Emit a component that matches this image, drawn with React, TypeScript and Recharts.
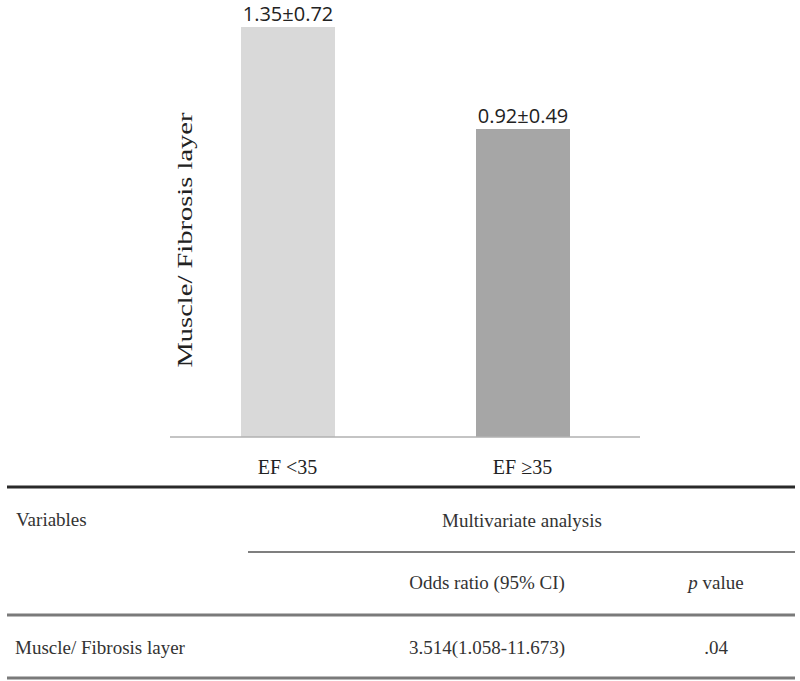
import React from "react";
import { BarChart, Bar, XAxis, YAxis, Cell, LabelList } from "recharts";

const categories = ["EF <35", "EF \u226535"];
const means = [1.35, 0.92];
const sds = [0.72, 0.49];
const axisFloor = -0.38;
const axisCeil = 1.35;
const barColors = ["#d9d9d9", "#a6a6a6"];
const yAxisTitle = "Muscle/ Fibrosis layer";

const tableHeader = { variables: "Variables", group: "Multivariate analysis", col1: "Odds ratio (95% CI)", col2: "value" };
const tableRowLabels = ["Muscle/ Fibrosis layer"];
const tableOdds = ["3.514(1.058-11.673)"];
const tablePValues = [".04"];

const data = categories.map((c, i) => ({ category: c, mean: means[i], sd: sds[i] }));

const serif = "'Liberation Serif', 'Times New Roman', serif";
const sans = "'Open Sans', 'Noto Sans', sans-serif";

const ValueLabel = (props: any) => {
  const { x, y, width, index } = props;
  const d = data[index];
  return (
    <text x={x + width / 2} y={y - 6} textAnchor="middle" fontFamily={sans} fontSize={20} fill="#222">
      {`${d.mean.toFixed(2)}\u00b1${d.sd.toFixed(2)}`}
    </text>
  );
};

const CatTick = (props: any) => {
  const { x, y, payload } = props;
  return (
    <text x={x} y={y} dy={29} textAnchor="middle" fontFamily={serif} fontSize={20} fill="#222">
      {payload.value}
    </text>
  );
};

const YTitle = (props: any) => {
  const vb = props.viewBox || { x: 0, y: 0, width: 0, height: 0 };
  const cx = vb.x + 185;
  const cy = vb.y + 213;
  return (
    <text
      x={cx}
      y={cy}
      transform={`rotate(-90, ${cx}, ${cy})`}
      textAnchor="middle"
      dominantBaseline="central"
      fontFamily={serif}
      fontSize={21}
      fill="#222"
      textLength={255}
      lengthAdjust="spacingAndGlyphs"
    >
      {yAxisTitle}
    </text>
  );
};

export default function App() {
  return (
    <div style={{ position: "absolute", left: 0, top: 0, width: 800, height: 681, background: "#fff" }}>
      <BarChart
        width={800}
        height={490}
        data={data}
        margin={{ top: 27, right: 160, bottom: 13, left: 0 }}
        barCategoryGap="30%"
      >
        <XAxis
          dataKey="category"
          height={40}
          axisLine={{ stroke: "#b0b0b0", strokeWidth: 1.5 }}
          tickLine={false}
          tick={<CatTick />}
          interval={0}
        />
        <YAxis
          type="number"
          width={170}
          domain={[axisFloor, axisCeil]}
          allowDataOverflow
          axisLine={false}
          tickLine={false}
          tick={false}
          label={<YTitle />}
        />
        <Bar dataKey={(d: any) => [axisFloor, d.mean]} barSize={94} isAnimationActive={false}>
          {data.map((d, i) => (
            <Cell key={d.category} fill={barColors[i]} />
          ))}
          <LabelList content={<ValueLabel />} />
        </Bar>
      </BarChart>
      <svg width={800} height={681} style={{ position: "absolute", left: 0, top: 0, pointerEvents: "none" }}>
        <line x1={7} x2={795} y1={487} y2={487} stroke="#2a2a2a" strokeWidth={3} />
        <line x1={248} x2={795} y1={552} y2={552} stroke="#555" strokeWidth={1.5} />
        <line x1={7} x2={795} y1={615} y2={615} stroke="#7a7a7a" strokeWidth={3} />
        <line x1={7} x2={795} y1={678} y2={678} stroke="#7a7a7a" strokeWidth={3} />
        <g fontFamily={serif} fontSize={19} fill="#333" dominantBaseline="central">
          <text x={16} y={519}>{tableHeader.variables}</text>
          <text x={522} y={520} textAnchor="middle">{tableHeader.group}</text>
          <text x={487} y={582} textAnchor="middle">{tableHeader.col1}</text>
          <text x={716} y={582} textAnchor="middle">
            <tspan fontStyle="italic">p</tspan> {tableHeader.col2}
          </text>
          {tableRowLabels.map((r, i) => (
            <g key={r}>
              <text x={15} y={647}>{r}</text>
              <text x={487} y={647} textAnchor="middle">{tableOdds[i]}</text>
              <text x={716} y={647} textAnchor="middle">{tablePValues[i]}</text>
            </g>
          ))}
        </g>
      </svg>
    </div>
  );
}
